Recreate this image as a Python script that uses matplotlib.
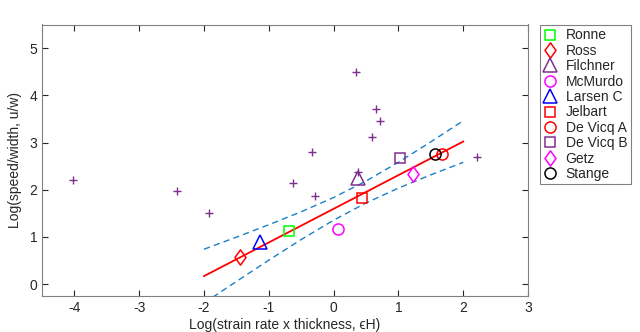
import numpy as np
from matplotlib import pyplot as plt
from matplotlib.path import Path

plt.rcParams['font.family'] = ['Liberation Sans', 'DejaVu Sans']
plt.rcParams['axes.unicode_minus'] = False

# unnamed points (purple plus signs)
other_x = [-4.02, -2.42, -1.93, -0.62, -0.33, -0.29, 0.35, 0.66, 0.72, 0.60, 0.38, 2.21]
other_y = [2.20, 1.98, 1.50, 2.15, 2.80, 1.87, 4.50, 3.71, 3.46, 3.12, 2.38, 2.70]

# named ice shelves
names = ["Ronne", "Ross", "Filchner", "McMurdo", "Larsen C",
         "Jelbart", "De Vicq A", "De Vicq B", "Getz", "Stange"]
shelf_x = [-0.69, -1.45, 0.38, 0.07, -1.14, 0.44, 1.68, 1.03, 1.22, 1.57]
shelf_y = [1.12, 0.57, 2.24, 1.17, 0.90, 1.82, 2.75, 2.68, 2.34, 2.75]

# fit line and prediction bounds
fit_x = [-2.0, -1.5, -1.0, -0.5, 0.0, 0.5, 1.0, 1.5, 2.0]
fit_y = [0.171, 0.527, 0.884, 1.240, 1.596, 1.952, 2.309, 2.665, 3.021]
upper_y = [0.741, 0.996, 1.259, 1.534, 1.836, 2.184, 2.583, 3.014, 3.461]
lower_y = [-0.399, 0.058, 0.509, 0.946, 1.356, 1.720, 2.035, 2.316, 2.581]

purple = '#7E2F8E'
thin_diamond = Path([(0, 1), (0.72, 0), (0, -1), (-0.72, 0), (0, 1)],
                    [Path.MOVETO, Path.LINETO, Path.LINETO, Path.LINETO, Path.CLOSEPOLY])
styles = [
    ('s', '#00FF00', 7),
    (thin_diamond, '#FF0000', 11),
    ('^', purple, 9.5),
    ('o', '#FF00FF', 8),
    ('^', '#0000FF', 9.5),
    ('s', '#FF0000', 7),
    ('o', '#FF0000', 8),
    ('s', purple, 7),
    (thin_diamond, '#FF00FF', 11),
    ('o', 'black', 8),
]

fig = plt.figure(figsize=(6.4, 3.32), dpi=100)
ax = fig.add_axes([42 / 640, 1 - 296 / 332, 486 / 640, 271.5 / 332])

ax.plot(other_x, other_y, '+', color=purple, markersize=6, markeredgewidth=1)
ax.plot(fit_x, fit_y, '-', color='red', linewidth=1.3)
ax.plot(fit_x, upper_y, '--', color='#1a80c8', linewidth=1, dashes=(4.5, 3))
ax.plot(fit_x, lower_y, '--', color='#1a80c8', linewidth=1, dashes=(4.5, 3))

handles = []
for i in range(len(names)):
    m, c, s = styles[i]
    h, = ax.plot(shelf_x[i], shelf_y[i], linestyle='none', marker=m, markersize=s,
                 markerfacecolor='none', markeredgecolor=c, markeredgewidth=1.1,
                 label=names[i])
    handles.append(h)

ax.set_xlim(-4.5, 3)
ax.set_ylim(-0.25, 5.5)
ax.set_xticks(np.arange(-4, 4, 1))
ax.set_yticks(np.arange(0, 6, 1))
ax.tick_params(direction='in', top=True, right=True, length=4, width=0.8,
               color='#262626', labelcolor='#262626', labelsize=10)
for sp in ax.spines.values():
    sp.set_color('#808080')
    sp.set_linewidth(0.8)

ax.set_xlabel('Log(strain rate x thickness, ϵH)', fontsize=10, color='#262626', labelpad=2)
ax.set_ylabel('Log(speed/width, u/w)', fontsize=10, color='#262626', labelpad=5)

leg = fig.legend(handles=handles, loc='upper left',
                 bbox_to_anchor=(540 / 640, 1 - 25 / 332), borderaxespad=0,
                 fontsize=10, fancybox=False, framealpha=1, edgecolor='#808080',
                 handlelength=1.0, handletextpad=0.6, labelspacing=0.1,
                 borderpad=0.25)
leg.get_frame().set_linewidth(0.8)
for t in leg.get_texts():
    t.set_color('#262626')

fig.savefig('out.png', dpi=100)
